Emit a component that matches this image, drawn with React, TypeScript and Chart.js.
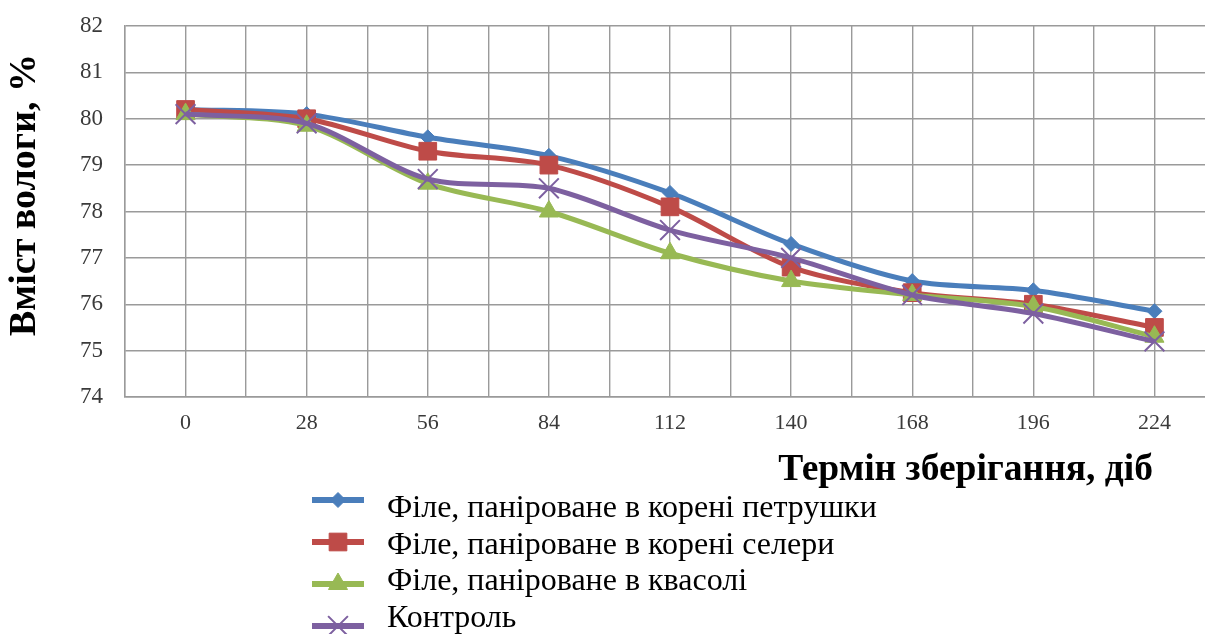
import React, { useEffect, useRef } from "react";
import { Chart, registerables } from "chart.js";
import { drawPoint } from "chart.js/helpers";

Chart.register(...registerables);

// Storage time, days
const days = [0, 28, 56, 84, 112, 140, 168, 196, 224];

// Moisture content, %
const parsley = [80.2, 80.1, 79.6, 79.2, 78.4, 77.3, 76.5, 76.3, 75.85];
const celery = [80.2, 80.0, 79.3, 79.0, 78.1, 76.8, 76.25, 76.0, 75.5];
const beans = [80.1, 79.85, 78.6, 78.0, 77.1, 76.5, 76.2, 75.95, 75.3];
const control = [80.1, 79.9, 78.7, 78.5, 77.6, 77.0, 76.2, 75.8, 75.2];

const seriesNames = [
  "Філе, паніроване в корені петрушки",
  "Філе, паніроване в корені селери",
  "Філе, паніроване в квасолі",
  "Контроль",
];

const yTitle = "Вміст вологи, %";
const xTitle = "Термін зберігання, діб";

const SERIF = "'Liberation Serif', 'Times New Roman', serif";

const toPoints = (vals: number[]) => days.map((d, i) => ({ x: d, y: vals[i] }));

// Axis titles and the stacked legend under the plot
const annotations = {
  id: "annotations",
  afterDraw(chart: any) {
    const { ctx } = chart;
    ctx.save();
    ctx.fillStyle = "#000";

    ctx.save();
    ctx.translate(25, 195);
    ctx.rotate(-Math.PI / 2);
    ctx.font = `bold 38px ${SERIF}`;
    ctx.textAlign = "center";
    ctx.textBaseline = "middle";
    ctx.fillText(yTitle, 0, 0);
    ctx.restore();

    ctx.font = `bold 37.5px ${SERIF}`;
    ctx.textAlign = "right";
    ctx.textBaseline = "alphabetic";
    ctx.fillText(xTitle, 1153, 480);

    chart.data.datasets.forEach((ds: any, i: number) => {
      const textY = 509 + i * 36.5;
      const symY = 500 + i * 42;
      ctx.strokeStyle = ds.borderColor;
      ctx.lineWidth = 6;
      ctx.lineCap = "butt";
      ctx.beginPath();
      ctx.moveTo(312, symY);
      ctx.lineTo(364, symY);
      ctx.stroke();
      ctx.fillStyle = ds.pointBackgroundColor;
      ctx.strokeStyle = ds.pointBorderColor;
      ctx.lineWidth = ds.pointBorderWidth;
      drawPoint(ctx, { pointStyle: ds.pointStyle, rotation: 0, borderWidth: ds.pointBorderWidth, radius: ds.pointRadius }, 338, symY);
      ctx.fillStyle = "#000";
      ctx.font = `32px ${SERIF}`;
      ctx.textAlign = "left";
      ctx.textBaseline = "middle";
      ctx.fillText(ds.label, 387, textY);
    });
    ctx.restore();
  },
};

export default function App() {
  const ref = useRef<HTMLCanvasElement | null>(null);

  useEffect(() => {
    if (!ref.current) return;
    const mk = (i: number, vals: number[], color: string, style: string, radius: number, order: number) => ({
      label: seriesNames[i],
      data: toPoints(vals),
      borderColor: color,
      backgroundColor: color,
      borderWidth: 5,
      tension: 0.3,
      pointStyle: style,
      pointRadius: radius,
      pointHoverRadius: radius,
      pointBackgroundColor: color,
      pointBorderColor: color,
      pointBorderWidth: style === "crossRot" ? 2 : 1,
      order,
    });

    const chart = new Chart(ref.current, {
      type: "line",
      data: {
        datasets: [
          mk(0, parsley, "#4A7EBB", "rectRot", 7.5, 4),
          mk(1, celery, "#BE4B48", "rect", 12.5, 3),
          mk(2, beans, "#98B954", "triangle", 11, 2),
          mk(3, control, "#7D60A0", "crossRot", 14, 1),
        ],
      },
      options: {
        animation: false,
        responsive: false,
        devicePixelRatio: 1,
        layout: { padding: { top: 26, right: 0, bottom: 0, left: 0 } },
        plugins: { legend: { display: false }, tooltip: { enabled: false } },
        scales: {
          x: {
            type: "linear",
            min: -14,
            max: 238,
            afterFit: (s: any) => {
              s.height = 237;
              s.paddingLeft = 0;
              s.paddingRight = 0;
            },
            afterBuildTicks: (s: any) => {
              const t = [];
              for (let v = -14; v <= 238; v += 14) t.push({ value: v });
              s.ticks = t;
            },
            ticks: {
              autoSkip: false,
              maxRotation: 0,
              padding: 13,
              color: "#3a3a3a",
              font: { family: SERIF, size: 22 },
              callback: (v: any) => (v >= 0 && v % 28 === 0 ? String(v) : ""),
            },
            grid: { color: "#9a9a9a", lineWidth: 1.4, drawTicks: false },
            border: { color: "#9a9a9a", width: 1.4 },
          },
          y: {
            min: 74,
            max: 82,
            afterFit: (s: any) => {
              s.width = 125;
              s.paddingTop = 0;
              s.paddingBottom = 0;
            },
            ticks: {
              stepSize: 1,
              padding: 22,
              color: "#3a3a3a",
              font: { family: SERIF, size: 23 },
            },
            grid: { color: "#9a9a9a", lineWidth: 1.4, drawTicks: false },
            border: { color: "#9a9a9a", width: 1.4 },
          },
        },
      },
      plugins: [annotations],
    });
    return () => chart.destroy();
  }, []);

  return (
    <div style={{ position: "absolute", left: 0, top: 0, width: 1205, height: 634, overflow: "hidden", background: "#fff" }}>
      <canvas ref={ref} width={1231} height={634} style={{ display: "block", width: 1231, height: 634 }} />
    </div>
  );
}
